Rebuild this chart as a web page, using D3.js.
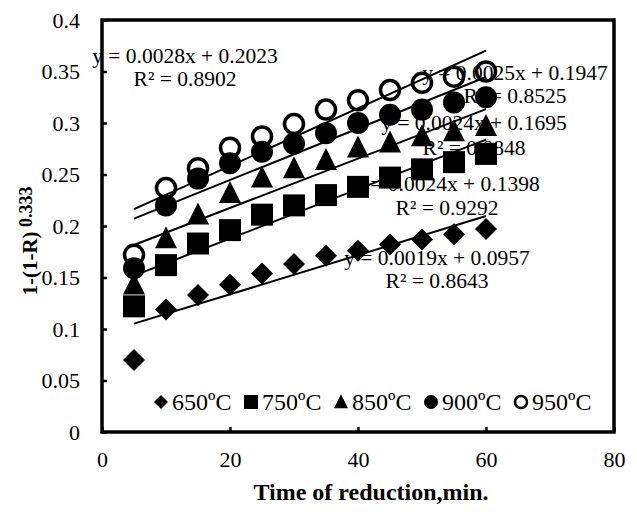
<!DOCTYPE html>
<html>
<head>
<meta charset="utf-8">
<script src="https://cdn.jsdelivr.net/npm/d3@7/dist/d3.min.js"></script>
<style>
  body { margin: 0; background: #fff; }
  text { font-family: "Liberation Serif", "Times New Roman", serif; fill: #000; }
</style>
</head>
<body>
<div id="chart"></div>
<script>
// time of reduction, min
const times = [5, 10, 15, 20, 25, 30, 35, 40, 45, 50, 55, 60];

const s650 = [0.070, 0.119, 0.133, 0.143, 0.154, 0.163, 0.171, 0.176, 0.182, 0.187, 0.192, 0.197];
const s750 = [0.122, 0.162, 0.183, 0.196, 0.211, 0.220, 0.230, 0.238, 0.247, 0.255, 0.262, 0.270];
const s850 = [0.143, 0.188, 0.211, 0.232, 0.247, 0.256, 0.264, 0.276, 0.281, 0.287, 0.292, 0.297];
const s900 = [0.159, 0.220, 0.246, 0.261, 0.272, 0.280, 0.290, 0.300, 0.308, 0.313, 0.320, 0.325];
const s950 = [0.172, 0.237, 0.256, 0.276, 0.287, 0.299, 0.313, 0.322, 0.332, 0.339, 0.345, 0.350];

const seriesNames = ['650ºC', '750ºC', '850ºC', '900ºC', '950ºC'];
const shapes = ['diamond', 'square', 'triangle', 'circle', 'open'];

// linear trendlines shown on the chart
const slopes = [0.0019, 0.0024, 0.0024, 0.0025, 0.0028];
const intercepts = [0.0957, 0.1398, 0.1695, 0.1947, 0.2023];
const eqLabels = ['y = 0.0019x + 0.0957', 'y = 0.0024x + 0.1398', 'y = 0.0024x + 0.1695', 'y = 0.0025x + 0.1947', 'y = 0.0028x + 0.2023'];
const r2Labels = ['R² = 0.8643', 'R² = 0.9292', 'R² = 0.8848', 'R² = 0.8525', 'R² = 0.8902'];

const xTicks = [0, 20, 40, 60, 80];
const yTicks = [0, 0.05, 0.1, 0.15, 0.2, 0.25, 0.3, 0.35, 0.4];

const W = 637, H = 515;
const margin = {left: 102, top: 20, right: 23, bottom: 83};
const w = W - margin.left - margin.right;
const h = H - margin.top - margin.bottom;

const svg = d3.select('#chart').append('svg').attr('width', W).attr('height', H);
const g = svg.append('g').attr('transform', `translate(${margin.left},${margin.top})`);

const xScale = d3.scaleLinear().domain([0, 80]).range([0, w]);
const yScale = d3.scaleLinear().domain([0, 0.4]).range([h, 0]);

function shapePath(type, s) {
  if (type === 'diamond') return `M0,${-s}L${s},0L0,${s}L${-s},0Z`;
  if (type === 'square') return `M${-s},${-s}H${s}V${s}H${-s}Z`;
  if (type === 'triangle') return `M0,${-s * 1.1}L${s},${s * 0.9}L${-s},${s * 0.9}Z`;
  return d3.arc()({innerRadius: 0, outerRadius: s, startAngle: 0, endAngle: 2 * Math.PI});
}

function styleMarker(sel, type, sw) {
  if (type === 'open') {
    sel.attr('fill', 'none').attr('stroke', '#000').attr('stroke-width', sw || 3.5);
  } else {
    sel.attr('fill', '#000');
  }
}

// axes (ticks inside)
const xAxis = d3.axisBottom(xScale).tickValues(xTicks).tickSize(-5).tickPadding(19).tickFormat(d3.format('d'));
const yAxis = d3.axisLeft(yScale).tickValues(yTicks).tickSize(-5).tickPadding(22).tickFormat(d => d === 0 ? '0' : String(+d.toFixed(2)));

const gx = g.append('g').attr('transform', `translate(0,${h})`).call(xAxis);
const gy = g.append('g').call(yAxis);
[gx, gy].forEach(ax => {
  ax.select('.domain').remove();
  ax.selectAll('line').attr('stroke', '#000').attr('stroke-width', 2.5);
  ax.selectAll('text').style('font-size', '22px').style('font-family', '"Liberation Serif", serif');
});
gx.selectAll('text').attr('dy', '0.71em');

// frame
g.append('rect').attr('width', w).attr('height', h)
  .attr('fill', 'none').attr('stroke', '#000').attr('stroke-width', 3.5);

const allSeries = [s650, s750, s850, s900, s950];

// markers
allSeries.forEach((vals, i) => {
  const data = times.map((t, j) => [t, vals[j]]);
  g.append('g').selectAll('path').data(data).enter().append('path')
    .attr('transform', d => `translate(${xScale(d[0])},${yScale(d[1])})`)
    .attr('d', shapePath(shapes[i], shapes[i] === 'open' ? 9.5 : 11))
    .call(styleMarker, shapes[i]);
});

// trendlines
allSeries.forEach((vals, i) => {
  const x0 = times[0], x1 = times[times.length - 1];
  g.append('line')
    .attr('x1', xScale(x0)).attr('y1', yScale(slopes[i] * x0 + intercepts[i]))
    .attr('x2', xScale(x1)).attr('y2', yScale(slopes[i] * x1 + intercepts[i]))
    .attr('stroke', '#000').attr('stroke-width', 2);
});

// trendline equations (x center, y center in svg px)
const eqPos = [[437, 257, 280], [447, 183, 207], [474, 122, 147], [515, 72, 95], [185, 55, 78]];
eqPos.forEach((p, i) => {
  svg.append('text').attr('x', p[0]).attr('y', p[1]).attr('dy', '0.35em')
    .attr('text-anchor', 'middle').style('font-size', '21.5px').text(eqLabels[i]);
  svg.append('text').attr('x', p[0]).attr('y', p[2]).attr('dy', '0.35em')
    .attr('text-anchor', 'middle').style('font-size', '21.5px').text(r2Labels[i]);
});

// legend
const legendX = [161, 251, 341, 431, 521];
seriesNames.forEach((name, i) => {
  const lg = svg.append('g').attr('transform', `translate(${legendX[i]},402)`);
  lg.append('path').attr('d', shapePath(shapes[i], shapes[i] === 'open' ? 6 : 7))
    .call(styleMarker, shapes[i], 2.5);
  lg.append('text').attr('x', 11).attr('y', 0).attr('dy', '0.35em')
    .style('font-size', '24px').text(name);
});

// axis titles
svg.append('text').attr('x', 371).attr('y', 500)
  .attr('text-anchor', 'middle').style('font-size', '24px').style('font-weight', 'bold')
  .text('Time of reduction,min.');

const yt = svg.append('text').attr('transform', 'translate(37,241) rotate(-90)')
  .attr('text-anchor', 'middle').style('font-size', '21px').style('font-weight', 'bold');
yt.append('tspan').text('1-(1-R)');
yt.append('tspan').attr('dy', '-5').style('font-size', '18px').text(' 0.333');
</script>
</body>
</html>
